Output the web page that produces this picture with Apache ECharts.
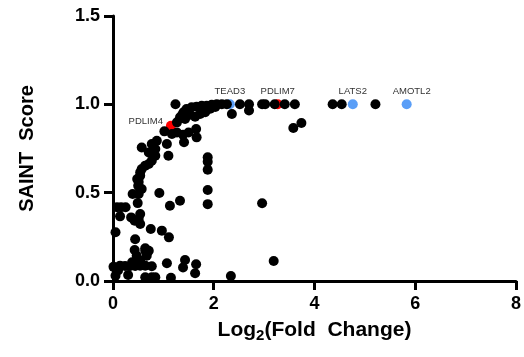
<!DOCTYPE html>
<html><head><meta charset="utf-8">
<script src="https://cdn.jsdelivr.net/npm/echarts@6/dist/echarts.min.js"></script>
<style>html,body{margin:0;padding:0;background:#fff}#c{width:524px;height:357px}</style>
</head><body><div id="c"></div>
<script>
// log2 fold change, SAINT score for background (black) prey
const blackX = [1.24,2.52,2.70,2.96,3.02,3.21,3.41,3.61,4.36,4.54,5.21,
  2.70,2.36,
  1.40,1.46,1.56,1.66,1.76,1.86,1.96,2.06,2.16,2.26,
  1.33,1.27,1.43,1.53,1.63,1.73,1.83,1.37,1.50,1.93,2.03,
  1.02,1.17,1.27,1.39,1.50,1.65,1.66,1.41,
  3.58,3.74,
  0.87,0.77,1.07,0.57,0.84,0.71,0.84,1.10,0.77,0.71,0.64,0.57,0.54,0.54,0.48,0.51,0.50,0.57,0.39,0.51,0.92,0.49,1.13,1.33,
  1.88,1.88,1.88,1.88,1.88,
  2.96,3.19,2.34,
  0.08,0.16,0.25,0.14,0.36,0.43,0.51,0.54,0.54,0.05,0.75,0.97,1.11,0.44,
  0.43,0.64,0.71,0.67,0.47,0.64,1.07,1.43,1.39,1.65,1.63,
  0.01,0.14,0.24,0.34,0.44,0.54,0.64,0.77,0.54,0.38,0.47,
  0.05,0.10,0.30,0.64,0.77,0.84,1.15];
const blackY = [1.0,1.0,1.0,1.0,1.0,1.0,1.0,1.0,1.0,1.0,1.0,
  0.965,0.945,
  0.955,0.973,0.983,0.987,0.992,0.992,0.998,1.0,1.0,1.0,
  0.926,0.898,0.917,0.941,0.93,0.945,0.955,0.94,0.955,0.975,0.985,
  0.847,0.832,0.841,0.828,0.841,0.86,0.813,0.785,
  0.866,0.894,
  0.794,0.775,0.775,0.756,0.747,0.728,0.709,0.709,0.681,0.662,0.653,0.634,0.615,0.596,0.577,0.56,0.539,0.521,0.492,0.492,0.498,0.441,0.426,0.454,
  0.70,0.675,0.63,0.515,0.435,
  0.44,0.113,0.028,
  0.417,0.417,0.417,0.366,0.36,0.341,0.351,0.323,0.379,0.276,0.294,0.285,0.247,0.236,
  0.175,0.171,0.171,0.143,0.143,0.185,0.10,0.119,0.076,0.095,0.044,
  0.08,0.087,0.085,0.085,0.085,0.087,0.087,0.083,0.115,0.106,0.096,
  0.03,0.06,0.034,0.021,0.021,0.021,0.018];
const redNames = ['PDLIM4','PDLIM7'];
const redX = [1.15,3.27];
const redY = [0.879,1.0];
const blueNames = ['TEAD3','LATS2','AMOTL2'];
const blueX = [2.32,4.76,5.83];
const blueY = [1.0,1.0,1.0];
const xTicks = [0,2,4,6,8];
const yTicks = [0,0.5,1.0,1.5];

const F = 'Liberation Sans, Arial, sans-serif';
const chart = echarts.init(document.getElementById('c'));
const zip = (a,b,n)=>a.map((v,i)=>n?{value:[v,b[i]],name:n[i]}:[v,b[i]]);
const geneLabel = {show:true, position:'top', distance:3, formatter:p=>p.name,
  color:'#333', fontFamily:F, fontSize:9.5};
chart.setOption({
  animation:false,
  grid:{left:113, right:8, top:16, bottom:76},
  xAxis:{type:'value', min:xTicks[0], max:xTicks[xTicks.length-1], interval:2,
    name:'{a|Log}{s|2}{a|(Fold  Change)}', nameLocation:'middle', nameGap:37,
    nameTextStyle:{rich:{a:{fontFamily:F,fontWeight:'bold',fontSize:21,color:'#000'},
      s:{fontFamily:F,fontWeight:'bold',fontSize:15,color:'#000',padding:[10,0,0,0]}}},
    axisLine:{lineStyle:{color:'#000',width:3}},
    axisTick:{length:9,lineStyle:{color:'#000',width:3}},
    axisLabel:{color:'#000',fontFamily:F,fontWeight:'bold',fontSize:18,margin:14},
    splitLine:{show:false}},
  yAxis:{type:'value', min:yTicks[0], max:yTicks[yTicks.length-1], interval:0.5,
    name:'SAINT  Score', nameLocation:'middle', nameGap:76,
    nameTextStyle:{fontFamily:F,fontWeight:'bold',fontSize:20,color:'#000'},
    axisLine:{lineStyle:{color:'#000',width:3}},
    axisTick:{show:true,length:9,lineStyle:{color:'#000',width:3}},
    axisLabel:{color:'#000',fontFamily:F,fontWeight:'bold',fontSize:18,margin:13,
      formatter:v=>v.toFixed(1)},
    splitLine:{show:false}},
  series:[
    {type:'scatter', symbolSize:10, itemStyle:{color:'#ff0000',opacity:1}, z:2,
      data:zip(redX,redY,redNames), label:geneLabel},
    {type:'scatter', symbolSize:10, itemStyle:{color:'#5a9ef7',opacity:1}, z:2,
      data:zip(blueX,blueY,blueNames), label:geneLabel},
    {type:'scatter', symbolSize:10, itemStyle:{color:'#000',opacity:1}, z:3,
      data:zip(blackX,blackY)}
  ]
});
// PDLIM4 label sits to the left of its point
const opt = chart.getOption();
opt.series[0].data[0].label = {position:'left', distance:3, offset:[0,-4]};
opt.series[1].data[2].label = {offset:[5,0]};
chart.setOption({series:opt.series});
</script></body></html>
